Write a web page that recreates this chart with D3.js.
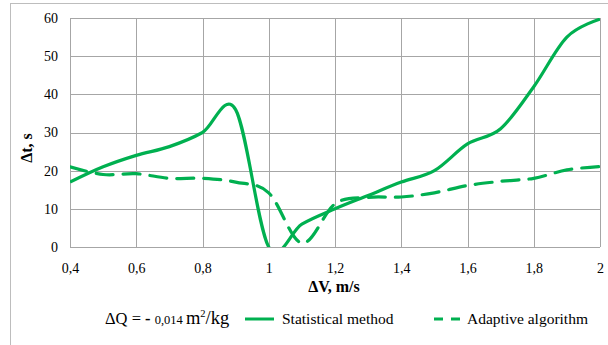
<!DOCTYPE html>
<html>
<head>
<meta charset="utf-8">
<script src="https://d3js.org/d3.v7.min.js"></script>
</head>
<body style="margin:0">
<div id="chart"></div>
<script>
// data
var speeds = [0.4, 0.5, 0.6, 0.7, 0.8, 0.9, 1.0, 1.1, 1.2, 1.3, 1.4, 1.5, 1.6, 1.7, 1.8, 1.9, 2.0];
var statistical = [17, 21, 24, 26.3, 30, 36, 0, 6, 10, 13.5, 17, 20, 27, 31, 42, 55, 59.7];
var adaptive = [21, 19, 19.2, 18, 18, 17, 14.2, 1, 11.3, 13, 13.1, 14.2, 16.1, 17.2, 18, 20.2, 21.1];
var xTicks = [0.4, 0.6, 0.8, 1, 1.2, 1.4, 1.6, 1.8, 2];
var yTicks = [0, 10, 20, 30, 40, 50, 60];

var green = "#00b050";
var gridColor = "#a6a6a6";

var svg = d3.select("#chart").append("svg")
    .attr("width", 608)
    .attr("height", 345);

// outer chart frame (cut off at right and bottom)
svg.append("rect")
    .attr("x", 10.5).attr("y", 3.5)
    .attr("width", 700).attr("height", 400)
    .attr("fill", "none")
    .attr("stroke", "#bdbdbd");

var x = d3.scaleLinear().domain([0.4, 2]).range([70, 600]);
var y = d3.scaleLinear().domain([0, 60]).range([247, 18]);

// grid
svg.append("g").selectAll("line").data(xTicks).join("line")
    .attr("x1", function(d) { return Math.round(x(d)) + 0.5; })
    .attr("x2", function(d) { return Math.round(x(d)) + 0.5; })
    .attr("y1", y(60)).attr("y2", y(0))
    .attr("stroke", gridColor);
svg.append("g").selectAll("line").data(yTicks).join("line")
    .attr("y1", function(d) { return Math.round(y(d)) + 0.5; })
    .attr("y2", function(d) { return Math.round(y(d)) + 0.5; })
    .attr("x1", x(0.4)).attr("x2", x(2))
    .attr("stroke", gridColor);

// lines
svg.append("clipPath").attr("id", "plot")
    .append("rect")
    .attr("x", x(0.4)).attr("y", y(60))
    .attr("width", x(2) - x(0.4)).attr("height", y(0) - y(60));

var line = function(vals) {
    return d3.line()
        .x(function(d, i) { return x(speeds[i]); })
        .y(function(d) { return y(d); })
        .curve(d3.curveCardinal.tension(0))(vals);
};

svg.append("path")
    .attr("clip-path", "url(#plot)")
    .attr("d", line(adaptive))
    .attr("fill", "none")
    .attr("stroke", green)
    .attr("stroke-width", 3.2)
    .attr("stroke-dasharray", "17,10")
    .attr("stroke-linecap", "round");

svg.append("path")
    .attr("clip-path", "url(#plot)")
    .attr("d", line(statistical))
    .attr("fill", "none")
    .attr("stroke", green)
    .attr("stroke-width", 3.2)
    .attr("stroke-linejoin", "round");

// axes (labels only, lines come from the grid)
var xAxis = svg.append("g")
    .attr("transform", "translate(0," + y(0) + ")")
    .call(d3.axisBottom(x).tickValues(xTicks).tickSize(0).tickPadding(16)
        .tickFormat(function(d) { return String(d).replace(".", ","); }));
var yAxis = svg.append("g")
    .attr("transform", "translate(" + x(0.4) + ",0)")
    .call(d3.axisLeft(y).tickValues(yTicks).tickSize(0).tickPadding(12));
[xAxis, yAxis].forEach(function(g) {
    g.select(".domain").remove();
    g.attr("font-family", null).attr("font-size", null);
});

// every text of the chart, serif like the original
var txt = svg.append("g");

txt.append("text")
    .attr("transform", "translate(32,148) rotate(-90)")
    .attr("text-anchor", "middle")
    .style("font-weight", "bold")
    .style("font-size", "16px")
    .text("Δt, s");

txt.append("text")
    .attr("x", 334).attr("y", 292)
    .attr("text-anchor", "middle")
    .style("font-weight", "bold")
    .style("font-size", "16px")
    .text("ΔV, m/s");

var dq = txt.append("text").attr("x", 105).attr("y", 324);
dq.append("tspan").style("font-size", "16.5px").text("ΔQ = ");
dq.append("tspan").style("font-size", "16.5px").style("font-weight", "bold").text("- ");
dq.append("tspan").style("font-size", "12.5px").text("0,014 ");
dq.append("tspan").style("font-size", "18.5px").text("m");
dq.append("tspan").style("font-size", "10.5px").attr("dy", -7).text("2");
dq.append("tspan").style("font-size", "18.5px").attr("dy", 7).text("/kg");

svg.append("line")
    .attr("x1", 245).attr("x2", 274).attr("y1", 319).attr("y2", 319)
    .attr("stroke", green).attr("stroke-width", 3);
txt.append("text").attr("x", 282).attr("y", 324)
    .style("font-size", "15.5px")
    .text("Statistical method");

svg.append("line")
    .attr("x1", 434).attr("x2", 461).attr("y1", 319).attr("y2", 319)
    .attr("stroke", green).attr("stroke-width", 3)
    .attr("stroke-dasharray", "9,8");
txt.append("text").attr("x", 467).attr("y", 324)
    .style("font-size", "15.5px")
    .text("Adaptive algorithm");

svg.selectAll("text")
    .style("font-family", "'Liberation Serif'")
    .attr("fill", "#000");
xAxis.selectAll("text").style("font-size", "14px");
yAxis.selectAll("text").style("font-size", "14px");
</script>
</body>
</html>
